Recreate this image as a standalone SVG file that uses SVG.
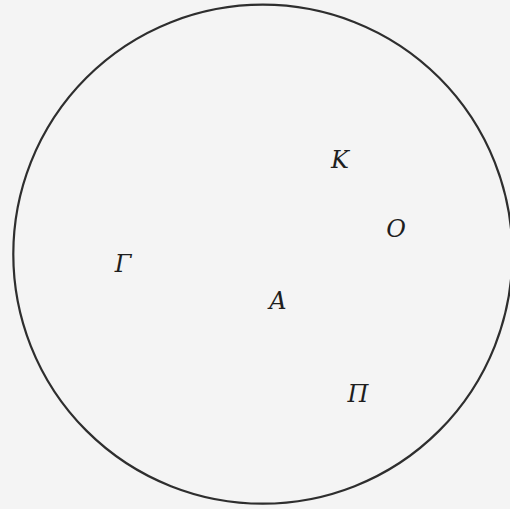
<svg xmlns="http://www.w3.org/2000/svg" width="510" height="509" viewBox="0 0 510 509">
<style>
.lbl{font-family:"DejaVu Serif","Liberation Serif",serif;font-style:italic;font-size:24px;fill:#1e1e1e;text-anchor:middle}
</style>
<rect width="510" height="509" fill="#f4f4f4"/>
<g id="circle"><circle cx="262.8" cy="254.2" r="249.5" fill="none" stroke="#2e2e2e" stroke-width="2.2"/></g>
<g id="connectors"></g>
<g id="K"><text class="lbl" x="340" y="168">Κ</text></g>
<g id="O"><text class="lbl" x="396" y="237">Ο</text></g>
<g id="Gamma"><text class="lbl" x="123" y="272">Γ</text></g>
<g id="A"><text class="lbl" x="278" y="309">Α</text></g>
<g id="Pi"><text class="lbl" x="358" y="402">Π</text></g>
</svg>
